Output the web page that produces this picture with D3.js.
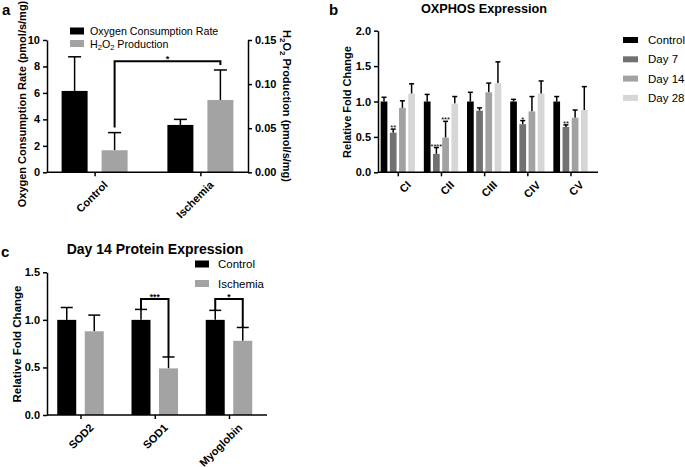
<!DOCTYPE html>
<html><head><meta charset="utf-8">
<script src="https://cdn.jsdelivr.net/npm/d3@7"></script>
<style>
body{margin:0;background:#fff;}
svg{display:block;font-family:"Liberation Sans",Arial,sans-serif;}
</style></head>
<body><svg id="c" width="685" height="467"></svg>
<script>
// ---------- Panel a data ----------
const aGroups = ["Control", "Ischemia"];
const aSeries = ["OCR", "H2O2"];
const ocrMean = [6.15, 3.58];
const ocrErr = [2.58, 0.42];
const h2o2Mean = [0.025, 0.082];
const h2o2Err = [0.020, 0.034];
const aLeftTicks = [0, 2, 4, 6, 8, 10];
const aRightTicks = [0.00, 0.05, 0.10, 0.15];

// ---------- Panel b data ----------
const bGroups = ["CI", "CII", "CIII", "CIV", "CV"];
const bSeries = ["Control", "Day 7", "Day 14", "Day 28"];
const bControl = [1.00, 1.00, 1.00, 1.00, 1.00];
const bDay7 = [0.56, 0.26, 0.87, 0.68, 0.64];
const bDay14 = [0.91, 0.49, 1.13, 0.86, 0.77];
const bDay28 = [1.11, 0.97, 1.26, 1.11, 0.88];
const bControlErr = [0.06, 0.10, 0.13, 0.03, 0.07];
const bDay7Err = [0.05, 0.09, 0.04, 0.05, 0.03];
const bDay14Err = [0.10, 0.23, 0.13, 0.21, 0.11];
const bDay28Err = [0.14, 0.10, 0.30, 0.18, 0.33];
const bStars = [
  {g: "CI", s: "Day 7", t: "**"},
  {g: "CII", s: "Day 7", t: "****"},
  {g: "CII", s: "Day 14", t: "***"},
  {g: "CIV", s: "Day 7", t: "*"},
  {g: "CV", s: "Day 7", t: "**"}
];
const bTicks = [0, 0.5, 1.0, 1.5, 2.0];

// ---------- Panel c data ----------
const cGroups = ["SOD2", "SOD1", "Myoglobin"];
const cSeries = ["Control", "Ischemia"];
const cControl = [1.00, 1.00, 1.00];
const cControlErr = [0.13, 0.11, 0.10];
const cIschemia = [0.88, 0.49, 0.78];
const cIschemiaErr = [0.17, 0.12, 0.14];
const cBrackets = [
  {g: "SOD1", t: "***", top: 1.22},
  {g: "Myoglobin", t: "*", top: 1.22}
];
const cTicks = [0, 0.5, 1.0, 1.5];

const svg = d3.select("#c");
svg.append("rect").attr("width", 685).attr("height", 467).attr("fill", "#fff");

function styleAxis(g, fs) {
  g.selectAll("path,line").attr("stroke", "#000").attr("stroke-width", 1.5);
  g.selectAll("text").attr("font-size", fs).attr("font-weight", "bold").attr("fill", "#000")
    .attr("font-family", '"Liberation Sans",Arial,sans-serif');
}
function rotLabels(g) {
  g.selectAll("text").attr("text-anchor", "end")
    .attr("transform", "translate(3,3) rotate(-45)").attr("dy", "0.7em").attr("dx", "0");
}
function errBar(g, x, yTop, yErr, cap) {
  g.append("line").attr("x1", x).attr("x2", x).attr("y1", yTop).attr("y2", yErr)
    .attr("stroke", "#000").attr("stroke-width", 1.5);
  g.append("line").attr("x1", x - cap / 2).attr("x2", x + cap / 2).attr("y1", yErr).attr("y2", yErr)
    .attr("stroke", "#000").attr("stroke-width", 1.5);
}

// ================= Panel a =================
(function () {
  const g = svg.append("g");
  const x = d3.scalePoint().domain(aGroups).range([47, 248]).padding(0.45);
  const xi = d3.scaleBand().domain(aSeries).range([-33, 33]).paddingInner(0.35);
  const yL = d3.scaleLinear().domain([0, 10]).range([172.3, 40]);
  const yR = d3.scaleLinear().domain([0, 0.15]).range([172.3, 40]);
  const colors = {OCR: "#000", H2O2: "#a3a3a3"};

  aGroups.forEach((grp, i) => {
    const vals = [
      {s: "OCR", y: yL(ocrMean[i]), e: yL(ocrMean[i] + ocrErr[i])},
      {s: "H2O2", y: yR(h2o2Mean[i]), e: yR(h2o2Mean[i] + h2o2Err[i])}
    ];
    vals.forEach(v => {
      const bx = x(grp) + xi(v.s);
      errBar(g, bx + xi.bandwidth() / 2, v.y, v.e, 13);
      g.append("rect").attr("x", bx).attr("y", v.y).attr("width", xi.bandwidth())
        .attr("height", yL(0) - v.y).attr("fill", colors[v.s]);
    });
  });

  const ax = g.append("g").attr("transform", "translate(0,172.3)")
    .call(d3.axisBottom(x).tickSize(4).tickSizeOuter(0));
  ax.select(".domain").attr("d", "M47,0H248");
  styleAxis(ax, 11); rotLabels(ax);
  const ayl = g.append("g").attr("transform", "translate(47,0)")
    .call(d3.axisLeft(yL).tickValues(aLeftTicks).tickSize(4).tickSizeOuter(0).tickPadding(3));
  styleAxis(ayl, 11);
  const ayr = g.append("g").attr("transform", "translate(248,0)")
    .call(d3.axisRight(yR).tickValues(aRightTicks).tickFormat(d3.format(".2f")).tickSize(4).tickSizeOuter(0).tickPadding(3));
  styleAxis(ayr, 11);

  // bracket
  const xl = x("Control") + xi("H2O2") + xi.bandwidth() / 2;
  const xr = x("Ischemia") + xi("H2O2") + xi.bandwidth() / 2;
  const yt = yL(8.4);
  const y1 = yR(h2o2Mean[0] + h2o2Err[0]) - 5;
  const y2 = yR(h2o2Mean[1] + h2o2Err[1]) - 5;
  g.append("path").attr("d", `M${xl},${y1}V${yt}H${xr}V${y2}`).attr("fill", "none")
    .attr("stroke", "#000").attr("stroke-width", 2);
  g.append("text").attr("x", (xl + xr) / 2).attr("y", yt + 1).attr("text-anchor", "middle")
    .attr("font-size", 9).attr("font-weight", "bold").text("*");

  // axis titles
  g.append("text").attr("transform", "translate(26,104) rotate(-90)").attr("text-anchor", "middle")
    .attr("font-size", 11).attr("font-weight", "bold").text("Oxygen Consumption Rate (pmol/s/mg)");
  const rt = g.append("text").attr("transform", "translate(283,106) rotate(90)").attr("text-anchor", "middle")
    .attr("font-size", 11).attr("font-weight", "bold");
  rt.append("tspan").text("H");
  rt.append("tspan").attr("font-size", 8).attr("dy", 3).text("2");
  rt.append("tspan").attr("dy", -3).text("O");
  rt.append("tspan").attr("font-size", 8).attr("dy", 3).text("2");
  rt.append("tspan").attr("dy", -3).text(" Production (pmol/s/mg)");

  // legend
  const lg = g.append("g");
  lg.append("rect").attr("x", 70).attr("y", 27.5).attr("width", 14).attr("height", 7).attr("fill", colors.OCR);
  lg.append("text").attr("x", 90).attr("y", 35).attr("font-size", 10.7).text("Oxygen Consumption Rate");
  lg.append("rect").attr("x", 70).attr("y", 40).attr("width", 14).attr("height", 7).attr("fill", colors.H2O2);
  const lt = lg.append("text").attr("x", 90).attr("y", 47.5).attr("font-size", 10.7);
  lt.append("tspan").text("H");
  lt.append("tspan").attr("font-size", 7.5).attr("dy", 2.5).text("2");
  lt.append("tspan").attr("dy", -2.5).text("O");
  lt.append("tspan").attr("font-size", 7.5).attr("dy", 2.5).text("2");
  lt.append("tspan").attr("dy", -2.5).text(" Production");

  g.append("text").attr("x", 2).attr("y", 15).attr("font-size", 15).attr("font-weight", "bold").text("a");
})();

// ================= Panel b =================
(function () {
  const g = svg.append("g");
  const x = d3.scalePoint().domain(bGroups).range([397.8, 570.5]);
  const xi = d3.scaleBand().domain(bSeries).range([-17.15, 17.15]).paddingInner(0.27);
  const y = d3.scaleLinear().domain([0, 2]).range([172.3, 30.7]);
  const colors = {"Control": "#000", "Day 7": "#717171", "Day 14": "#a2a2a2", "Day 28": "#d6d6d6"};
  const means = {"Control": bControl, "Day 7": bDay7, "Day 14": bDay14, "Day 28": bDay28};
  const errs = {"Control": bControlErr, "Day 7": bDay7Err, "Day 14": bDay14Err, "Day 28": bDay28Err};

  bGroups.forEach((grp, i) => {
    bSeries.forEach(s => {
      const bx = x(grp) + xi(s);
      const yt = y(means[s][i]);
      errBar(g, bx + xi.bandwidth() / 2, yt, y(means[s][i] + errs[s][i]), 5);
      g.append("rect").attr("x", bx).attr("y", yt).attr("width", xi.bandwidth())
        .attr("height", y(0) - yt).attr("fill", colors[s]);
    });
  });
  bStars.forEach(st => {
    const i = bGroups.indexOf(st.g);
    const cx = x(st.g) + xi(st.s) + xi.bandwidth() / 2;
    g.append("text").attr("x", cx).attr("y", y(means[st.s][i] + errs[st.s][i]) + 1)
      .attr("text-anchor", "middle").attr("font-size", 7.5).text(st.t);
  });

  const ax = g.append("g").attr("transform", "translate(0,172.3)")
    .call(d3.axisBottom(x).tickSize(4).tickSizeOuter(0));
  ax.select(".domain").attr("d", "M378,0H598");
  styleAxis(ax, 11); rotLabels(ax);
  const ay = g.append("g").attr("transform", "translate(378,0)")
    .call(d3.axisLeft(y).tickValues(bTicks).tickFormat(d3.format(".1f")).tickSize(4).tickSizeOuter(0).tickPadding(3));
  styleAxis(ay, 11);

  g.append("text").attr("transform", "translate(351,102) rotate(-90)").attr("text-anchor", "middle")
    .attr("font-size", 11).attr("font-weight", "bold").text("Relative Fold Change");
  g.append("text").attr("x", 484).attr("y", 12.5).attr("text-anchor", "middle")
    .attr("font-size", 12.7).attr("font-weight", "bold").text("OXPHOS Expression");

  bSeries.forEach((s, k) => {
    const yy = 40 + k * 19.3;
    g.append("rect").attr("x", 623).attr("y", yy - 3).attr("width", 15).attr("height", 6).attr("fill", colors[s]);
    g.append("text").attr("x", 648).attr("y", yy + 4).attr("font-size", 11.5).text(s);
  });

  g.append("text").attr("x", 329).attr("y", 15).attr("font-size", 15).attr("font-weight", "bold").text("b");
})();

// ================= Panel c =================
(function () {
  const g = svg.append("g");
  const x = d3.scalePoint().domain(cGroups).range([80.5, 229]);
  const xi = d3.scaleBand().domain(cSeries).range([-23.25, 23.25]).paddingInner(0.31);
  const y = d3.scaleLinear().domain([0, 1.5]).range([415, 272.3]);
  const colors = {"Control": "#000", "Ischemia": "#a3a3a3"};
  const means = {"Control": cControl, "Ischemia": cIschemia};
  const errs = {"Control": cControlErr, "Ischemia": cIschemiaErr};

  cGroups.forEach((grp, i) => {
    cSeries.forEach(s => {
      const bx = x(grp) + xi(s);
      const yt = y(means[s][i]);
      errBar(g, bx + xi.bandwidth() / 2, yt, y(means[s][i] + errs[s][i]), 12);
      g.append("rect").attr("x", bx).attr("y", yt).attr("width", xi.bandwidth())
        .attr("height", y(0) - yt).attr("fill", colors[s]);
    });
  });

  cBrackets.forEach(b => {
    const i = cGroups.indexOf(b.g);
    const xl = x(b.g) + xi("Control") + xi.bandwidth() / 2;
    const xr = x(b.g) + xi("Ischemia") + xi.bandwidth() / 2;
    const yt = y(b.top);
    g.append("path").attr("d", `M${xl},${y(cControl[i] + cControlErr[i])}V${yt}H${xr}V${y(cIschemia[i] + cIschemiaErr[i])}`)
      .attr("fill", "none").attr("stroke", "#000").attr("stroke-width", 2);
    g.append("text").attr("x", (xl + xr) / 2).attr("y", yt + 1).attr("text-anchor", "middle")
      .attr("font-size", 8.5).attr("font-weight", "bold").text(b.t);
  });

  const ax = g.append("g").attr("transform", "translate(0,415)")
    .call(d3.axisBottom(x).tickSize(4).tickSizeOuter(0));
  ax.select(".domain").attr("d", "M47,0H267");
  styleAxis(ax, 11); rotLabels(ax);
  const ay = g.append("g").attr("transform", "translate(47,0)")
    .call(d3.axisLeft(y).tickValues(cTicks).tickFormat(d3.format(".1f")).tickSize(4).tickSizeOuter(0).tickPadding(3));
  styleAxis(ay, 11);

  g.append("text").attr("transform", "translate(21,344) rotate(-90)").attr("text-anchor", "middle")
    .attr("font-size", 11.5).attr("font-weight", "bold").text("Relative Fold Change");
  g.append("text").attr("x", 155).attr("y", 254).attr("text-anchor", "middle")
    .attr("font-size", 14).attr("font-weight", "bold").text("Day 14 Protein Expression");

  cSeries.forEach((s, k) => {
    const yy = 264 + k * 19.5;
    g.append("rect").attr("x", 195).attr("y", yy - 3.5).attr("width", 14).attr("height", 7).attr("fill", colors[s]);
    g.append("text").attr("x", 218).attr("y", yy + 4).attr("font-size", 11.5).text(s);
  });

  g.append("text").attr("x", 1).attr("y", 257).attr("font-size", 15).attr("font-weight", "bold").text("c");
})();
</script></body></html>
